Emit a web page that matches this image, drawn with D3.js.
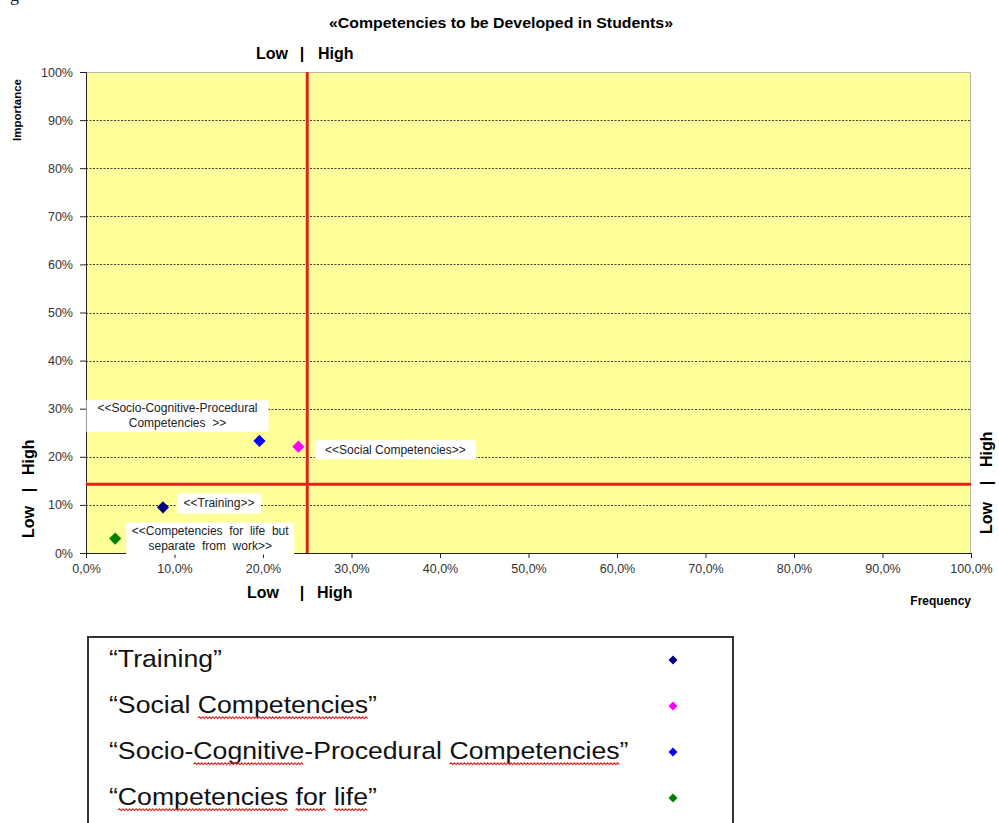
<!DOCTYPE html>
<html>
<head>
<meta charset="utf-8">
<script src="https://cdn.jsdelivr.net/npm/d3@7"></script>
<style>
  body { margin: 0; background: #fff; }
  text { font-family: Arial, "Liberation Sans", sans-serif; }
</style>
</head>
<body>
<div id="chart"></div>
<script>

// series data
var seriesNames = ["Training", "Social Competencies", "Socio-Cognitive-Procedural Competencies", "Competencies for life"];
var frequency = [0.087, 0.240, 0.196, 0.033];
var importance = [0.095, 0.221, 0.233, 0.030];
var pointLabels = [
    ["<<Training>>"],
    ["<<Social Competencies>>"],
    ["<<Socio-Cognitive-Procedural", "Competencies  >>"],
    ["<<Competencies  for  life  but", "separate  from  work>>"]
];
var seriesColors = ["#000080", "#ff00ff", "#0000ff", "#008000"];

// quadrant cut lines
var frequencyCut = 0.25;
var importanceCut = 0.143;

// tick values
var xTickValues = [0, 0.1, 0.2, 0.3, 0.4, 0.5, 0.6, 0.7, 0.8, 0.9, 1.0];
var yTickValues = [0, 0.1, 0.2, 0.3, 0.4, 0.5, 0.6, 0.7, 0.8, 0.9, 1.0];

// words with the red spell-check underline in the legend
var spellWords = [[], ["Competencies"], ["Cognitive", "Competencies"], ["Competencies", "for", "life"]];

// label boxes, placed relative to their point (pixels)
var labelLayout = [
    { dx: 56, dy: -4, w: 84, h: 20 },
    { dx: 97, dy: 3, w: 161, h: 19 },
    { dx: -82, dy: -25, w: 182, h: 32 },
    { dx: 95, dy: 0, w: 168, h: 32 }
];

var svgWidth = 999, svgHeight = 823;
var margin = { left: 86, top: 72 };
var chartWidth = 885, chartHeight = 481;

var svg = d3.select("#chart").append("svg")
    .attr("width", svgWidth)
    .attr("height", svgHeight);

// stray glyph from the page above the chart
svg.append("text")
    .attr("x", 10).attr("y", 1)
    .style("font-family", "'Liberation Serif', 'DejaVu Serif', serif")
    .style("font-size", "18px")
    .attr("fill", "#222")
    .text("g");

var chartGroup = svg.append("g")
    .attr("transform", `translate(${margin.left}, ${margin.top})`);

var xScale = d3.scaleLinear().domain([0, 1]).range([0, chartWidth]);
var yScale = d3.scaleLinear().domain([0, 1]).range([chartHeight, 0]);

var commaPct = d => d3.format(".1%")(d).replace(".", ",");

// plot background
chartGroup.append("rect")
    .attr("width", chartWidth)
    .attr("height", chartHeight)
    .attr("fill", "#ffff99");

// dashed gridlines
chartGroup.append("g")
    .selectAll("line")
    .data(yTickValues.filter(d => d > 0 && d < 1))
    .enter().append("line")
    .attr("x1", 0).attr("x2", chartWidth)
    .attr("y1", d => Math.round(yScale(d)) + 0.5)
    .attr("y2", d => Math.round(yScale(d)) + 0.5)
    .attr("stroke", "#111")
    .attr("stroke-width", 0.8)
    .attr("stroke-dasharray", "2,1.5");

// top and right border
chartGroup.append("path")
    .attr("d", `M0,0.5H${chartWidth - 0.5}V${chartHeight}`)
    .attr("fill", "none")
    .attr("stroke", "#b8b8a8")
    .attr("stroke-width", 1);

// axes
var xAxis = d3.axisBottom(xScale).tickValues(xTickValues).tickFormat(commaPct).tickSize(5).tickPadding(6);
var yAxis = d3.axisLeft(yScale).tickValues(yTickValues).tickFormat(d3.format(".0%")).tickSize(6).tickPadding(7);

var xAxisG = chartGroup.append("g")
    .attr("transform", `translate(0, ${chartHeight})`)
    .call(xAxis);
var yAxisG = chartGroup.append("g")
    .call(yAxis);

[xAxisG, yAxisG].forEach(function (g) {
    g.selectAll(".domain").attr("stroke", "#222");
    g.selectAll(".tick line").attr("stroke", "#222");
    g.selectAll(".tick text")
        .attr("fill", "#333")
        .style("font-size", "12.5px")
        .style("font-family", "Arial, 'Liberation Sans', sans-serif");
});

// red quadrant lines
chartGroup.append("line")
    .attr("x1", xScale(frequencyCut)).attr("x2", xScale(frequencyCut))
    .attr("y1", 0).attr("y2", chartHeight)
    .attr("stroke", "#e0241b").attr("stroke-width", 3);
chartGroup.append("line")
    .attr("x1", 0).attr("x2", chartWidth)
    .attr("y1", yScale(importanceCut)).attr("y2", yScale(importanceCut))
    .attr("stroke", "#e0241b").attr("stroke-width", 3);

var data = seriesNames.map(function (name, i) {
    return { name: name, x: frequency[i], y: importance[i], color: seriesColors[i], label: pointLabels[i], box: labelLayout[i] };
});

// label boxes
var labels = chartGroup.selectAll(".pointLabel").data(data).enter()
    .append("g")
    .attr("class", "pointLabel")
    .attr("transform", d => `translate(${xScale(d.x) + d.box.dx}, ${yScale(d.y) + d.box.dy})`);

labels.append("rect")
    .attr("x", d => -d.box.w / 2)
    .attr("y", d => -d.box.h / 2)
    .attr("width", d => d.box.w)
    .attr("height", d => d.box.h)
    .attr("fill", "#fff");

labels.each(function (d) {
    var g = d3.select(this);
    var n = d.label.length;
    d.label.forEach(function (line, k) {
        g.append("text")
            .attr("text-anchor", "middle")
            .attr("x", 0)
            .attr("y", (k - (n - 1) / 2) * 15 + 4)
            .attr("fill", "#222")
            .style("font-size", "12px")
            .style("white-space", "pre")
            .text(line);
    });
});

// diamond markers
var diamond = d3.symbol().type(d3.symbolSquare).size(74);
chartGroup.selectAll(".marker").data(data).enter()
    .append("path")
    .attr("class", "marker")
    .attr("d", diamond)
    .attr("transform", d => `translate(${xScale(d.x)}, ${yScale(d.y)}) rotate(45)`)
    .attr("fill", d => d.color);

// title and axis texts
svg.append("text")
    .attr("x", 329).attr("y", 28)
    .attr("textLength", 344).attr("lengthAdjust", "spacingAndGlyphs")
    .style("font-size", "14px").style("font-weight", "bold")
    .text("«Competencies to be Developed in Students»");

function lowHigh(parent, lowPos, barPos, highPos) {
    parent.append("text").attr("x", lowPos).attr("y", 0).text("Low");
    parent.append("text").attr("x", barPos).attr("y", 0).attr("text-anchor", "middle").text("|");
    parent.append("text").attr("x", highPos).attr("y", 0).text("High");
}

var topLH = svg.append("g").attr("transform", "translate(0, 59)")
    .style("font-size", "16px").style("font-weight", "bold");
lowHigh(topLH, 256, 302, 318);

var bottomLH = svg.append("g").attr("transform", "translate(0, 598)")
    .style("font-size", "16px").style("font-weight", "bold");
lowHigh(bottomLH, 247, 302, 317);

var leftLH = svg.append("g").attr("transform", "translate(34, 0) rotate(-90)")
    .style("font-size", "16px").style("font-weight", "bold");
lowHigh(leftLH, -538, -490, -475);

var rightLH = svg.append("g").attr("transform", "translate(992, 0) rotate(-90)")
    .style("font-size", "16px").style("font-weight", "bold");
lowHigh(rightLH, -534, -483, -467);

svg.append("text")
    .attr("transform", "translate(21, 110) rotate(-90)")
    .attr("text-anchor", "middle")
    .style("font-size", "11.5px").style("font-weight", "bold")
    .text("Importance");

svg.append("text")
    .attr("x", 971).attr("y", 605)
    .attr("text-anchor", "end")
    .style("font-size", "12px").style("font-weight", "bold")
    .text("Frequency");

// legend box (runs off the bottom of the picture)
var legend = svg.append("g");
legend.append("rect")
    .attr("x", 88).attr("y", 637)
    .attr("width", 645).attr("height", 210)
    .attr("fill", "#fff")
    .attr("stroke", "#333")
    .attr("stroke-width", 2);

function wavePath(x0, x1, y) {
    var p = `M${x0},${y}`;
    var up = true;
    for (var x = x0 + 1.5; x <= x1; x += 1.5) {
        p += `L${x},${up ? y - 1.2 : y + 0.6}`;
        up = !up;
    }
    return p;
}

data.forEach(function (d, i) {
    var baseY = 667 + i * 46;
    var row = legend.append("g")
        .attr("transform", `translate(109, ${baseY}) scale(1.11, 1)`);
    var str = "\u201c" + d.name + "\u201d";
    var t = row.append("text")
        .attr("x", 0).attr("y", 0)
        .attr("fill", "#111")
        .style("font-size", "24px")
        .text(str);
    var node = t.node();
    spellWords[i].forEach(function (w) {
        var idx = str.indexOf(w);
        var x0 = idx > 0 ? node.getSubStringLength(0, idx) : 0;
        var x1 = node.getSubStringLength(0, idx + w.length);
        row.append("path")
            .attr("d", wavePath(x0, x1, 5))
            .attr("fill", "none")
            .attr("stroke", "#e02020")
            .attr("stroke-width", 1);
    });
    legend.append("path")
        .attr("d", d3.symbol().type(d3.symbolSquare).size(40))
        .attr("transform", `translate(673, ${baseY - 7}) rotate(45)`)
        .attr("fill", d.color);
});

</script>
</body>
</html>
